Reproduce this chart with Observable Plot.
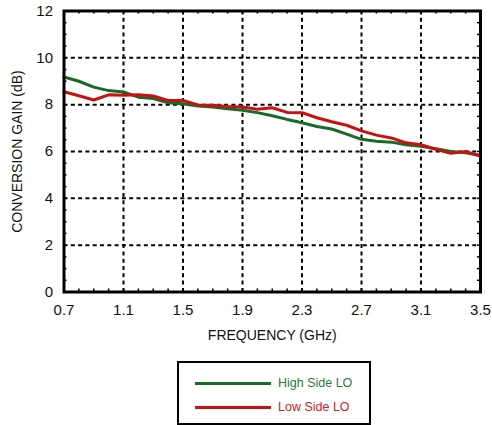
<!DOCTYPE html>
<html>
<head>
<meta charset="utf-8">
<script src="https://cdn.jsdelivr.net/npm/d3@7"></script>
<script src="https://cdn.jsdelivr.net/npm/@observablehq/plot@0.6"></script>
<style>
  html, body { margin: 0; padding: 0; background: #fff; }
  #wrap { position: relative; width: 492px; height: 425px; font-family: "Liberation Sans", Arial, sans-serif; }
  #legend { position: absolute; left: 177px; top: 361px; width: 190px; height: 60px; border: 2px solid #000; box-sizing: content-box; }
  .item { position: absolute; left: 16px; display: flex; align-items: center; font-size: 12.5px; }
  .item span.sw { display: inline-block; width: 76px; height: 3px; margin-right: 7px; }
</style>
</head>
<body>
<div id="wrap"></div>
<script>
const freq = [0.7,0.8,0.9,1.0,1.1,1.2,1.3,1.4,1.5,1.6,1.7,1.8,1.9,2.0,2.1,2.2,2.3,2.4,2.5,2.6,2.7,2.8,2.9,3.0,3.1,3.2,3.3,3.4,3.5];
const highSide = [9.18,9.0,8.75,8.6,8.54,8.32,8.26,8.08,8.04,7.94,7.9,7.83,7.76,7.66,7.53,7.37,7.23,7.07,6.96,6.74,6.52,6.44,6.4,6.29,6.22,6.12,6.0,5.95,5.83];
const lowSide = [8.55,8.38,8.2,8.42,8.4,8.42,8.37,8.18,8.18,7.99,7.98,7.92,7.9,7.8,7.87,7.67,7.66,7.44,7.27,7.12,6.88,6.7,6.58,6.37,6.29,6.09,5.92,6.0,5.8];
const seriesNames = ["High Side LO", "Low Side LO"];
const seriesColors = ["#176b28", "#cc1010"];
const textColors = ["#2c7a3c", "#d42020"];
const xTicks = [0.7,1.1,1.5,1.9,2.3,2.7,3.1,3.5];
const yTicks = [0,2,4,6,8,10,12];
const xMinor = d3.range(7, 36).map(d => d / 10);
const yMinor = d3.range(1, 24).map(d => d / 2);
const xLabel = "FREQUENCY (GHz)";
const yLabel = "CONVERSION GAIN (dB)";

const rows = [];
freq.forEach((f, i) => {
  rows.push({f, g: highSide[i], s: seriesNames[0]});
  rows.push({f, g: lowSide[i], s: seriesNames[1]});
});

const innerX = xTicks.slice(1, -1);
const innerY = yTicks.slice(1, -1);
const tx = 0.02, ty = 0.13;

const chart = Plot.plot({
  width: 492,
  height: 350,
  marginLeft: 63.5,
  marginRight: 12,
  marginTop: 10.5,
  marginBottom: 58.5,
  style: {fontFamily: "'Liberation Sans', Arial, sans-serif", fontSize: "14px", color: "#111", background: "#fff"},
  x: {domain: [0.7, 3.5]},
  y: {domain: [0, 12]},
  color: {domain: seriesNames, range: seriesColors},
  marks: [
    Plot.ruleX(innerX, {stroke: "#000", strokeWidth: 2, strokeDasharray: "4,3.3"}),
    Plot.ruleY(innerY, {stroke: "#000", strokeWidth: 2, strokeDasharray: "4,3.3"}),
    Plot.ruleX(xMinor, {y1: 0, y2: ty, stroke: "#000", strokeWidth: 1.5}),
    Plot.ruleX(xMinor, {y1: 12 - ty, y2: 12, stroke: "#000", strokeWidth: 1.5}),
    Plot.ruleY(yMinor, {x1: 0.7, x2: 0.7 + tx, stroke: "#000", strokeWidth: 1.5}),
    Plot.ruleY(yMinor, {x1: 3.5 - tx, x2: 3.5, stroke: "#000", strokeWidth: 1.5}),
    Plot.line(rows, {x: "f", y: "g", z: "s", stroke: "s", strokeWidth: 3, curve: "linear"}),
    Plot.frame({stroke: "#000", strokeWidth: 3}),
    Plot.axisX({ticks: xTicks, tickSize: 0, tickPadding: 12, fontSize: 15, tickFormat: d3.format(".1f"), label: null}),
    Plot.axisX({ticks: [], tickSize: 0, label: xLabel, labelAnchor: "center", labelOffset: 48, labelArrow: "none"}),
    Plot.axisY({ticks: yTicks, tickSize: 0, tickPadding: 11, fontSize: 15, tickFormat: d3.format("d"), label: null}),
    Plot.axisY({ticks: [], tickSize: 0, label: yLabel, labelAnchor: "center", labelOffset: 52, labelArrow: "none"})
  ]
});
const wrap = document.getElementById("wrap");
wrap.appendChild(chart);

const legend = document.createElement("div");
legend.id = "legend";
seriesNames.forEach((name, i) => {
  const it = document.createElement("div");
  it.className = "item";
  it.style.top = (i === 0 ? 13 : 37) + "px";
  it.style.color = textColors[i];
  const sw = document.createElement("span");
  sw.className = "sw";
  sw.style.background = seriesColors[i];
  it.appendChild(sw);
  it.appendChild(document.createTextNode(name));
  legend.appendChild(it);
});
wrap.appendChild(legend);
</script>
</body>
</html>
